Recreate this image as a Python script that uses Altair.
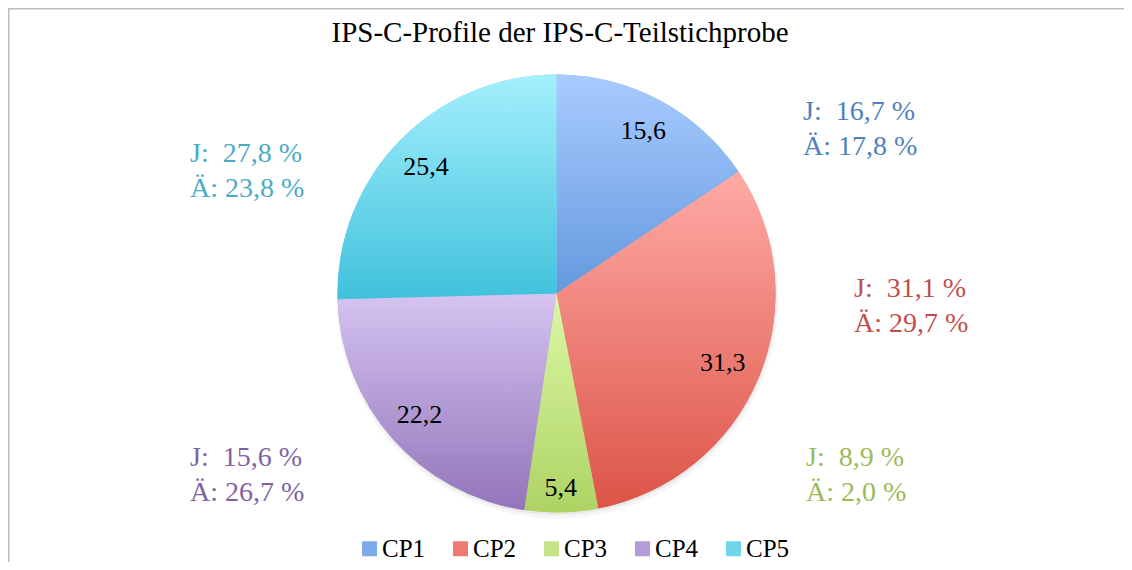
import altair as alt
import pandas as pd

# ---------------- data ----------------
title_text = "IPS-C-Profile der IPS-C-Teilstichprobe"
categories = ["CP1", "CP2", "CP3", "CP4", "CP5"]
shares = [15.6, 31.3, 5.4, 22.2, 25.4]
j_shares = [16.7, 31.1, 8.9, 15.6, 27.8]
ae_shares = [17.8, 29.7, 2.0, 26.7, 23.8]

# ---------------- styles ----------------
top_colors = ["#A9CBFF", "#FFAAA6", "#DCF8A7", "#D5C3F1", "#A4F0FD"]
bottom_colors = ["#6499DE", "#DC5447", "#AED364", "#9375BA", "#40C1DC"]
legend_colors = ["#7DAAEA", "#EF7A72", "#C6E387", "#B39CD7", "#6FD6EC"]
text_colors = ["#4F81BD", "#C0504D", "#9BBB59", "#8064A2", "#4BACC6"]

W, H = 1116, 498
CX, CY, R = 548.5, 229.5, 219
ann_pos = {"CP1": (795, 56), "CP2": (846, 233), "CP3": (798, 402),
           "CP4": (182, 402), "CP5": (182, 98)}
label_radius = {"CP1": 184, "CP2": 180, "CP3": 195, "CP4": 183, "CP5": 182}

df = pd.DataFrame({"cat": categories, "share": shares, "j": j_shares,
                   "ae": ae_shares, "idx": list(range(len(categories)))})

FONT = "Liberation Serif"


def grad(top, bottom):
    return {"gradient": "linear", "x1": 0, "y1": 0, "x2": 0, "y2": 1,
            "stops": [{"offset": 0, "color": top}, {"offset": 1, "color": bottom}]}


base = alt.Chart(df).transform_calculate(
    lbl="replace(format(datum.share, '.1f'), '.', ',')",
    ann="'J:\u00a0 ' + replace(format(datum.j, '.1f'), '.', ',') + ' %\\nÄ: ' + replace(format(datum.ae, '.1f'), '.', ',') + ' %'",
)

theta = alt.Theta("share:Q", stack=True)
order = alt.Order("idx:Q", sort="ascending")

one = alt.Chart(pd.DataFrame({"k": [0]}))
title_df = pd.DataFrame({"t": [title_text]})

shadow1 = one.mark_arc(fill="#000000", opacity=0.035, theta=0, theta2=6.2832,
                       radius=R + 2).encode(x=alt.value(CX + 1), y=alt.value(CY + 4))
shadow2 = one.mark_arc(fill="#000000", opacity=0.05, theta=0, theta2=6.2832,
                       radius=R + 0.5).encode(x=alt.value(CX + 0.5), y=alt.value(CY + 2))

pie_base = base.mark_arc(radius=R, strokeWidth=0).encode(
    theta=theta,
    order=order,
    color=alt.Color("cat:N", scale=alt.Scale(domain=categories, range=legend_colors),
                    legend=alt.Legend(orient="none", legendX=349, legendY=472,
                                      direction="horizontal", title=None,
                                      symbolType="square", symbolSize=225,
                                      symbolStrokeWidth=0, symbolOpacity=1,
                                      labelFont=FONT, labelFontSize=25,
                                      labelColor="black", labelOffset=0,
                                      columnPadding=22, padding=0)),
    x=alt.value(CX), y=alt.value(CY),
)

fill_cond = alt.when(alt.datum.cat == categories[0]).then(alt.value(grad(top_colors[0], bottom_colors[0])))
for i in range(1, 4):
    fill_cond = fill_cond.when(alt.datum.cat == categories[i]).then(
        alt.value(grad(top_colors[i], bottom_colors[i])))
fill_cond = fill_cond.otherwise(alt.value(grad(top_colors[4], bottom_colors[4])))

pie_grad = base.mark_arc(radius=R, strokeWidth=0).encode(
    theta=theta, order=order, fill=fill_cond,
    x=alt.value(CX), y=alt.value(CY),
)

label_base = base.transform_window(
    cum="sum(share)", sort=[alt.SortField("idx", order="ascending")]
).transform_calculate(mid="datum.cum - datum.share / 2")

labels = []
for cat in categories:
    labels.append(
        label_base.transform_filter(alt.datum.cat == cat).mark_text(
            font=FONT, fontSize=26, color="black", align="center", baseline="middle"
        ).encode(
            theta=alt.Theta("mid:Q", stack=False),
            radius=alt.value(label_radius[cat]),
            text="lbl:N",
            x=alt.value(CX), y=alt.value(CY),
        )
    )

annotations = []
for cat, col in zip(categories, text_colors):
    px, py = ann_pos[cat]
    annotations.append(
        base.transform_filter(alt.datum.cat == cat).mark_text(
            font=FONT, fontSize=28, color=col, align="left",
            baseline="alphabetic", lineBreak="\n", lineHeight=34.5,
        ).encode(text="ann:N", x=alt.value(px), y=alt.value(py))
    )

title_mark = alt.Chart(title_df).mark_text(
    font=FONT, fontSize=29, color="black", align="center", baseline="alphabetic"
).encode(text="t:N", x=alt.value(W / 2 - 6), y=alt.value(-22))

frame_left = one.mark_rule(color="#BDBDBD", strokeWidth=1.5).encode(
    x=alt.value(0.75), y=alt.value(-56), y2=alt.value(H))
frame_top = one.mark_rule(color="#BDBDBD", strokeWidth=1.5).encode(
    x=alt.value(0), x2=alt.value(W), y=alt.value(-55.25))

chart = alt.layer(
    frame_left, frame_top, title_mark, shadow1, shadow2, pie_base, pie_grad,
    *labels, *annotations
).properties(
    width=W, height=H,
    autosize=alt.AutoSizeParams(type="none"),
    padding={"left": 0, "top": 56, "right": 0, "bottom": 0},
    background="white",
).configure_view(stroke=None)

chart.save("out.html", embed_options={"renderer": "svg", "actions": False})
